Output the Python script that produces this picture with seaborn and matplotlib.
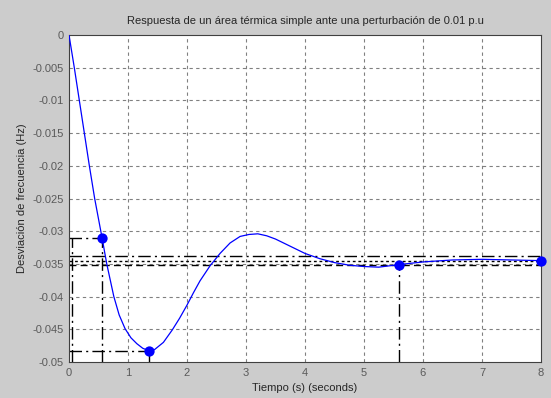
import matplotlib
matplotlib.use("Agg")
import matplotlib.pyplot as plt
import seaborn as sns
import pandas as pd

# --- data ---
time_s = [0, 0.09, 0.175, 0.26, 0.345, 0.435, 0.56, 0.64, 0.76, 0.85, 0.95, 1.05,
          1.15, 1.25, 1.36, 1.45, 1.6, 1.75, 1.875, 2.0, 2.11, 2.22, 2.39, 2.56,
          2.73, 2.9, 3.05, 3.2, 3.35, 3.5, 3.75, 4.0, 4.25, 4.5, 4.75, 5.0, 5.25,
          5.6, 6.0, 6.5, 7.0, 7.5, 8.0]
freq_dev = [0, -0.005, -0.010, -0.015, -0.020, -0.025, -0.031, -0.035, -0.040,
            -0.0428, -0.0449, -0.0463, -0.0472, -0.0479, -0.0483, -0.0481, -0.0470,
            -0.0451, -0.0433, -0.0413, -0.0394, -0.0376, -0.0353, -0.0334, -0.0318,
            -0.0308, -0.0305, -0.0304, -0.0307, -0.0312, -0.0323, -0.0334, -0.0342,
            -0.0348, -0.0352, -0.0354, -0.0355, -0.0351, -0.0347, -0.0344, -0.0343,
            -0.0344, -0.0345]

# characteristic points: rise (90%), peak, settling, steady state
char_t = [0.56, 1.36, 5.6, 8.0]
char_v = [-0.031, -0.0483, -0.0351, -0.0345]
rise_start_t = 0.055
band_levels = [-0.0338, -0.0345, -0.0352]

x_ticks = [0, 1, 2, 3, 4, 5, 6, 7, 8]
y_ticks = [0, -0.005, -0.01, -0.015, -0.02, -0.025, -0.03, -0.035, -0.04, -0.045, -0.05]
y_tick_labels = ["0", "-0.005", "-0.01", "-0.015", "-0.02", "-0.025", "-0.03",
                 "-0.035", "-0.04", "-0.045", "-0.05"]

title = "Respuesta de un área térmica simple ante una perturbación de 0.01 p.u"
xlabel = "Tiempo (s) (seconds)"
ylabel = "Desviación de frecuencia (Hz)"

sns.set_style("white")
plt.rcParams["font.family"] = ["Liberation Sans", "DejaVu Sans"]
plt.rcParams["axes.unicode_minus"] = False

fig = plt.figure(figsize=(5.51, 3.98), dpi=100, facecolor="#cccccc")
ax = fig.add_axes([69 / 551, 1 - 362 / 398, (541 - 69) / 551, (362 - 35) / 398])
ax.set_facecolor("white")

x0, x1 = x_ticks[0], x_ticks[-1]
y0, y1 = y_ticks[-1], y_ticks[0]
ax.set_xlim(x0, x1)
ax.set_ylim(y0, y1)

# grid
for xt in x_ticks[1:-1]:
    ax.axvline(xt, color="#808080", lw=0.8, ls=(0, (3, 3)), zorder=1)
for yt in y_ticks[1:-1]:
    ax.axhline(yt, color="#808080", lw=0.8, ls=(0, (3, 3)), zorder=1)

dashdot = (0, (9, 3, 1.5, 3))
kw = dict(color="black", lw=1.0, zorder=2)
# rise time markers
ax.plot([x0, char_t[0]], [char_v[0], char_v[0]], ls=dashdot, **kw)
ax.plot([char_t[0], char_t[0]], [y0, char_v[0]], ls=dashdot, **kw)
ax.plot([rise_start_t, rise_start_t], [y0, char_v[0]], ls=dashdot, **kw)
# peak markers
ax.plot([x0, char_t[1]], [char_v[1], char_v[1]], ls=dashdot, **kw)
ax.plot([char_t[1], char_t[1]], [y0, char_v[1]], ls=dashdot, **kw)
# settling markers
ax.plot([char_t[2], char_t[2]], [y0, char_v[2]], ls=dashdot, **kw)
# settling band
ax.axhline(band_levels[0], ls=dashdot, **kw)
ax.axhline(band_levels[1], ls=(0, (2, 2)), **kw)
ax.axhline(band_levels[2], ls=(0, (5, 3)), **kw)

df = pd.DataFrame({"t": time_s, "v": freq_dev})
sns.lineplot(data=df, x="t", y="v", ax=ax, color="#0000ff", lw=0.9, zorder=3)
dp = pd.DataFrame({"t": char_t, "v": char_v})
sns.scatterplot(data=dp, x="t", y="v", ax=ax, color="#0000ff", s=55,
                edgecolor="#0000ff", linewidth=0, zorder=4, clip_on=False)

ax.set_xticks(x_ticks)
ax.set_xticklabels([str(v) for v in x_ticks])
ax.set_yticks(y_ticks)
ax.set_yticklabels(y_tick_labels)
ax.tick_params(direction="in", length=4, width=0.8, color="#404040",
               labelcolor="#5a5a5a", labelsize=8, pad=4)
for s in ax.spines.values():
    s.set_visible(True)
    s.set_color("#404040")
    s.set_linewidth(0.8)

ax.set_title(title, fontsize=8, pad=8)
ax.set_xlabel(xlabel, fontsize=8, labelpad=4)
ax.set_ylabel(ylabel, fontsize=8, labelpad=4)

fig.savefig("out.png", dpi=100, facecolor=fig.get_facecolor())
